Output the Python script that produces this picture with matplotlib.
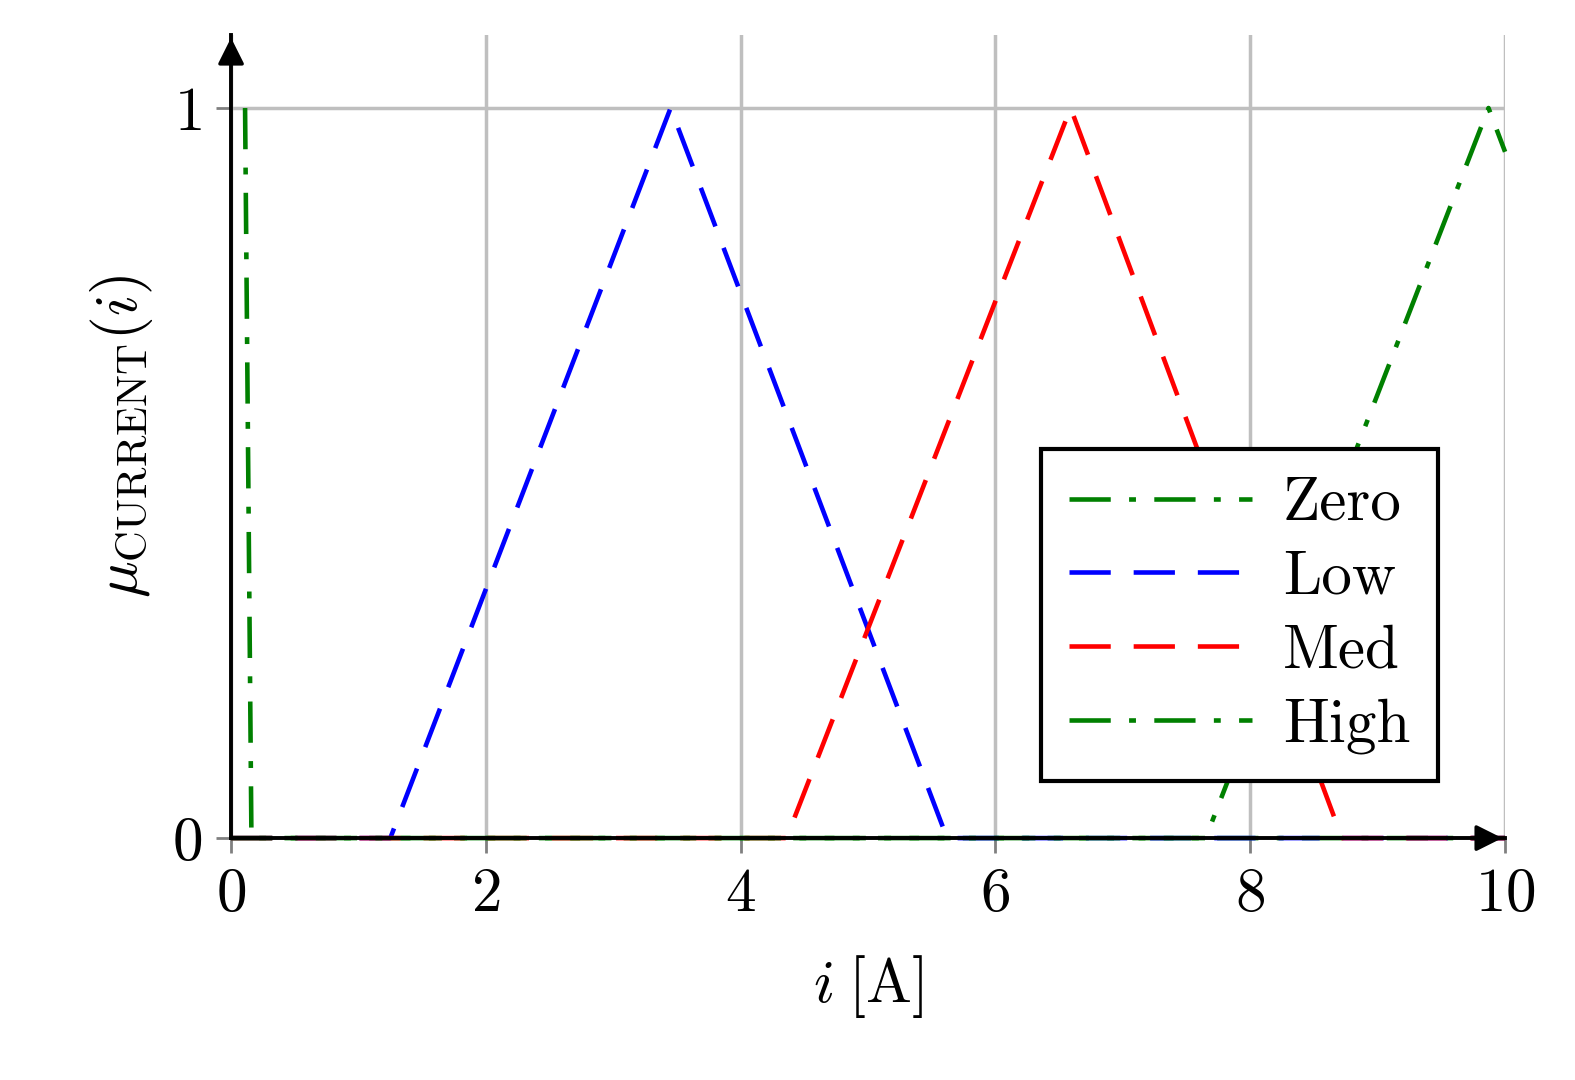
import matplotlib
matplotlib.use("Agg")
import matplotlib.pyplot as plt

plt.rcParams["font.family"] = "serif"
plt.rcParams["font.serif"] = ["cmr10", "DejaVu Serif"]
plt.rcParams["mathtext.fontset"] = "cm"
plt.rcParams["axes.formatter.use_mathtext"] = True

# membership functions (breakpoints)
zero_x = [0.11, 0.16, 10.0]
zero_y = [1.0, 0.0, 0.0]
low_x = [0.0, 1.25, 3.45, 5.62, 10.0]
low_y = [0.0, 0.0, 1.0, 0.0, 0.0]
med_x = [0.0, 4.36, 6.59, 8.72, 10.0]
med_y = [0.0, 0.0, 1.0, 0.0, 0.0]
high_x = [0.0, 7.65, 9.87, 10.0]
high_y = [0.0, 0.0, 1.0, 0.94]
xticks = [0, 2, 4, 6, 8, 10]
yticks = [0, 1]

fig = plt.figure(figsize=(15.75, 10.8), dpi=100)
ax = fig.add_axes([0.1467, 0.224, 0.8089, 0.7436])

dashdot = (0, (9, 4, 1.5, 4))
dashed = (0, (9, 5))
lw = 3.3
ax.plot(zero_x, zero_y, color="green", ls=dashdot, lw=lw, label="Zero", clip_on=False)
ax.plot(low_x, low_y, color="blue", ls=dashed, lw=lw, label="Low", clip_on=False)
ax.plot(med_x, med_y, color="red", ls=dashed, lw=lw, label="Med", clip_on=False)
ax.plot(high_x, high_y, color="green", ls=dashdot, lw=lw, label="High", clip_on=False)

ax.set_xlim(0, 10)
ax.set_ylim(0, 1.1)
ax.set_xticks(xticks)
ax.set_yticks(yticks)
ax.grid(True, color="#bfbfbf", lw=2.5)
ax.set_axisbelow(True)
ax.tick_params(direction="out", length=11, width=2, color="#808080", labelsize=44, pad=10)
for s in ["top", "right"]:
    ax.spines[s].set_visible(False)
for s in ["left", "bottom"]:
    ax.spines[s].set_linewidth(2.8)

# axis arrows
ax.annotate("", xy=(1.0, 0), xytext=(0.98, 0), xycoords="axes fraction",
            arrowprops=dict(arrowstyle="-|>", color="black", lw=2.5, mutation_scale=40))
ax.annotate("", xy=(0, 1.0), xytext=(0, 0.98), xycoords="axes fraction",
            arrowprops=dict(arrowstyle="-|>", color="black", lw=2.5, mutation_scale=40))

ax.set_xlabel(r"$i\;[\mathrm{A}]$", fontsize=44, labelpad=22)
ax.set_ylabel(r"$\mu_{\mathrm{CURRENT}}(i)$", fontsize=44, labelpad=12)

leg = ax.legend(loc="lower right", bbox_to_anchor=(0.971, 0.033), fontsize=44,
                frameon=True, fancybox=False, handlelength=3.0, handletextpad=0.5,
                borderpad=0.45, labelspacing=0.3)
leg.get_frame().set_edgecolor("black")
leg.get_frame().set_linewidth(3)
leg.get_frame().set_alpha(1)

fig.savefig("out.png", dpi=100)
